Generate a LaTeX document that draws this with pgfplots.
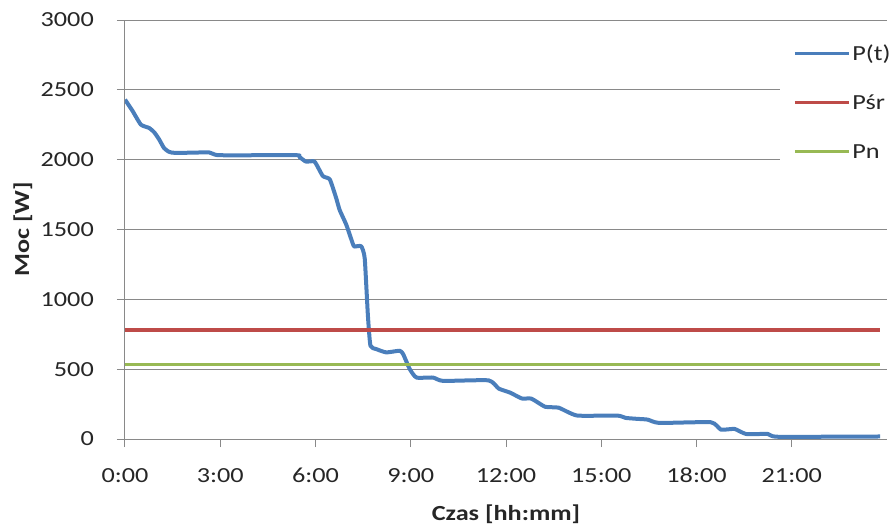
\documentclass[border=0pt]{standalone}
\usepackage{fontspec}
\setmainfont{Carlito}[FakeStretch=1.22]
\usepackage{pgfplots}
\pgfplotsset{compat=1.18}
\definecolor{cblue}{HTML}{4A7EBB}
\definecolor{cred}{HTML}{BE4B48}
\definecolor{cgreen}{HTML}{98B954}
\definecolor{cgrid}{HTML}{898989}
\newcommand{\tf}{\fontsize{21.5pt}{26pt}\selectfont}
\begin{document}
\begin{tikzpicture}
\path[use as bounding box] (-125pt,-91pt) rectangle (768pt,439pt);
\begin{axis}[
  width=762pt, height=419pt, scale only axis,
  xmin=0, xmax=24, ymin=0, ymax=3000,
  axis x line*=bottom, axis y line*=left,
  axis line style={draw=cgrid, line width=1pt, -},
  xtick={0,3,...,21},
  xticklabels={0:00,3:00,6:00,9:00,12:00,15:00,18:00,21:00},
  ytick={0,500,...,3000},
  ymajorgrids, grid style={draw=cgrid, line width=1pt},
  tick align=outside, major tick length=8pt,
  tick style={draw=cgrid, line width=1pt},
  /pgf/number format/assume math mode=true,
  /pgf/number format/1000 sep={},
  tick label style={font=\tf, text=black!85},
  xticklabel style={inner sep=0pt, yshift=-21pt},
  yticklabel style={inner sep=0pt, xshift=-23pt},
  xlabel={Czas [hh:mm]}, ylabel={Moc [W]},
  label style={font=\tf\bfseries, text=black!85},
  xlabel style={at={(axis description cs:0.5,-0.179)}, anchor=center},
  ylabel style={at={(axis description cs:-0.1339,0.5)}, anchor=center, rotate=0},
  legend style={at={(axis description cs:0.8596,0.959)}, anchor=north west,
    draw=none, fill=white, inner xsep=13pt, inner ysep=8pt,
    nodes={inner sep=0pt, text height=15pt, text depth=5pt, font=\tf, text=black!85},
    row sep=29pt, column sep=2pt},
  legend cell align=left,
  legend image code/.code={\draw[#1, line width=3.2pt] (0pt,1.5pt) -- (54pt,1.5pt);},
]
\addplot[cblue, line width=4pt, line join=round, smooth, tension=0.3] coordinates {
(0.00,2430) (0.23,2352) (0.50,2251) (0.76,2227) (0.92,2196) (1.07,2147)
(1.23,2083) (1.39,2056) (1.60,2048) (2.65,2052) (2.97,2032) (5.39,2032)
(5.49,2020) (5.70,1986) (5.97,1986) (6.23,1883) (6.45,1859) (6.65,1726)
(6.76,1640) (6.97,1534) (7.18,1395) (7.23,1378) (7.44,1380) (7.55,1294)
(7.65,885) (7.73,668) (7.91,644) (8.23,620) (8.65,632) (8.76,608)
(8.97,500) (9.18,440) (9.70,440) (10.02,416) (11.45,420) (11.77,361)
(12.13,332) (12.50,290) (12.80,289) (13.23,231) (13.66,224) (14.24,168)
(15.50,168) (15.77,151) (16.15,144) (16.46,139) (16.83,115) (18.45,120)
(18.77,67) (19.20,72) (19.56,36) (20.25,36) (20.57,16) (23.78,18)
};
\addlegendentry{P(t)}
\addplot[cred, line width=3.5pt] coordinates {(0,780) (23.78,780)};
\addlegendentry{Pśr}
\addplot[cgreen, line width=3.5pt] coordinates {(0,535) (23.78,535)};
\addlegendentry{Pn}
\end{axis}
\end{tikzpicture}
\end{document}
